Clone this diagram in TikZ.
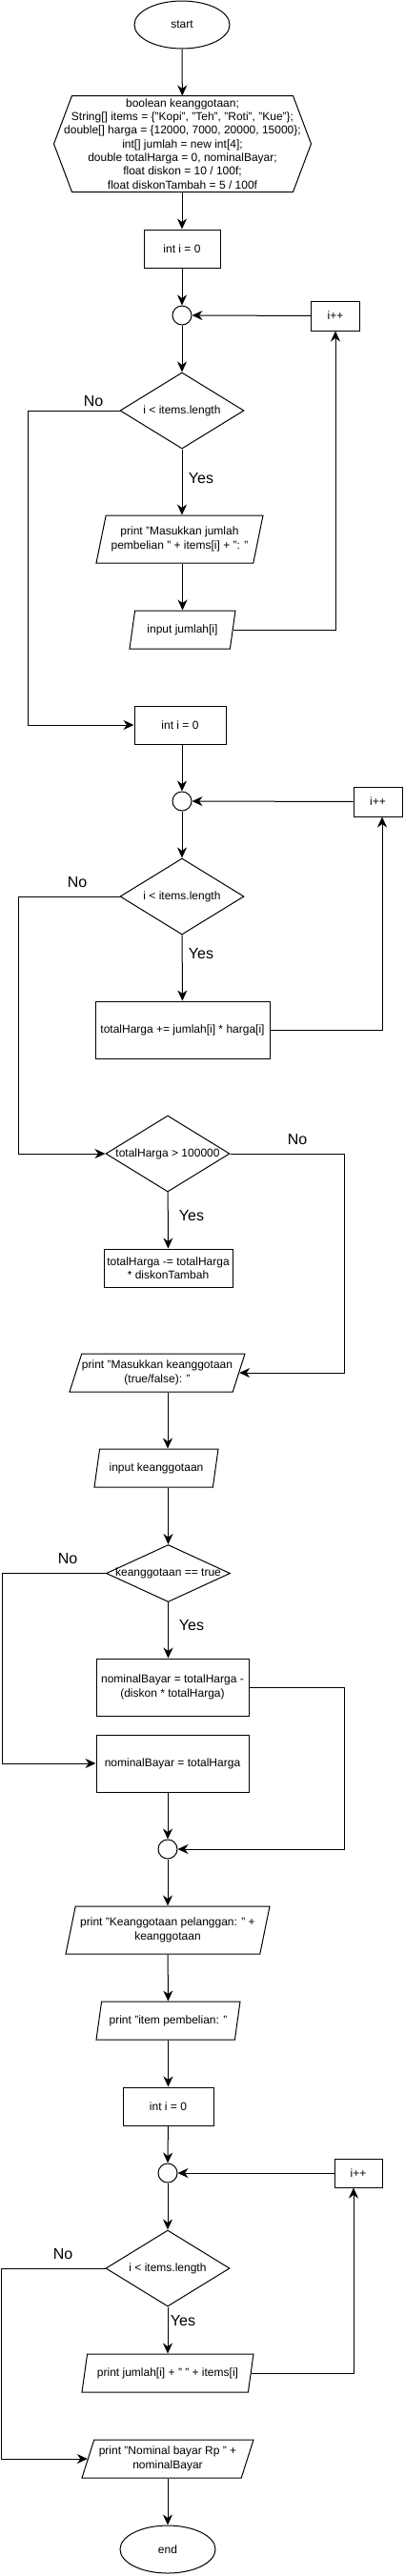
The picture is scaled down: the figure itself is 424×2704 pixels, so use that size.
\documentclass[tikz,border=0pt]{standalone}
\usepackage{fontspec}
\setmainfont{Liberation Sans}
\usetikzlibrary{shapes.geometric,arrows.meta}
\newcommand\zw[1]{\makebox[0pt]{#1}}

\begin{document}
\begin{tikzpicture}[x=1pt,y=-1pt,line width=1pt,font=\fontsize{12}{14.3}\selectfont,
    term/.style={ellipse,draw,minimum width=100,minimum height=50,inner sep=0},
    proc/.style={rectangle,draw,minimum height=40,inner sep=0,align=center},
    jn/.style={circle,draw,minimum size=20,inner sep=0},
    dec/.style={diamond,draw,minimum width=130,minimum height=80,inner sep=0},
    io/.style={trapezium,trapezium left angle=63.4,trapezium right angle=116.6,trapezium stretches body,draw,minimum height=40,inner sep=0,align=center},
    tall/.style={minimum height=50,trapezium left angle=68.2,trapezium right angle=111.8},
    lbl/.style={font=\fontsize{16}{16}\selectfont,inner sep=0,text height=11.5,text depth=0},
    arr/.style={-{Stealth[length=11pt,width=10pt,inset=3.5pt]}}]
    \useasboundingbox (0,0) rectangle (424,2704);
    \node[term] (start) at (191,26) {start};
    \node[minimum width=231,minimum height=100,inner sep=0,align=center] (init) at (191.5,151)
        {\zw{boolean keanggotaan;}\\\zw{String[] items = \{"Kopi", "Teh", "Roti", "Kue"\};}\\
         \zw{double[] harga = \{12000, 7000, 20000, 15000\};}\\\zw{int[] jumlah = new int[4];}\\
         \zw{double totalHarga = 0, nominalBayar;}\\\zw{float diskon = 10 / 100f;}\\\zw{float diskonTambah = 5 / 100f}};
    \draw (init.north west) -- (init.north east) -- ([xshift=19pt]init.east) -- (init.south east)
        -- (init.south west) -- ([xshift=-19pt]init.west) -- cycle;
    \node[proc,minimum width=80] (set1) at (191,261) {int i = 0};
    \node[jn] (j1) at (191,331) {};
    \node[proc,minimum width=51,minimum height=31] (inc1) at (352,331.5) {i++};
    \node[dec] (cek1) at (191,431) {\zw{i < items.length}};
    \node[io,tall,minimum width=175] (print1) at (188.5,566) {\zw{print "Masukkan jumlah}\\\zw{pembelian " + items[i] + ": "}};
    \node[io,minimum width=111] (in1) at (191.5,661) {\zw{input jumlah[i]}};
    \node[proc,minimum width=96] (set2) at (189,761) {int i = 0};
    \node[jn] (j2) at (191,841) {};
    \node[proc,minimum width=51,minimum height=31] (inc2) at (396.5,841.5) {i++};
    \node[dec] (cek2) at (191,941) {\zw{i < items.length}};
    \node[proc,minimum width=183,minimum height=60] (upd) at (191.5,1081) {totalHarga += jumlah[i] * harga[i]};
    \node[dec] (cek3) at (176,1211) {\zw{totalHarga > 100000}};
    \node[proc,minimum width=135] (disk) at (176.5,1331) {totalHarga -= totalHarga\\{}* diskonTambah};
    \node[io,minimum width=184] (print2) at (165,1441) {\zw{print "Masukkan keanggotaan}\\\zw{(true/false): "}};
    \node[io,minimum width=130] (in2) at (164,1541) {\zw{input keanggotaan}};
    \node[dec,minimum height=60] (cek4) at (176.5,1651.5) {\zw{keanggotaan == true}};
    \node[proc,minimum width=160,minimum height=60] (bayar1) at (181,1771) {nominalBayar = totalHarga -\\(diskon * totalHarga)};
    \node[proc,minimum width=160,minimum height=60] (bayar2) at (181,1851) {nominalBayar = totalHarga};
    \node[jn] (j3) at (176,1941) {};
    \node[io,tall,minimum width=214] (out1) at (176,2026) {\zw{print "Keanggotaan pelanggan: " +}\\\zw{keanggotaan}};
    \node[io,minimum width=151] (out2) at (176.5,2121) {\zw{print "item pembelian: "}};
    \node[proc,minimum width=95] (set3) at (176.5,2211) {int i = 0};
    \node[jn] (j4) at (176,2281) {};
    \node[proc,minimum width=50,minimum height=30] (inc3) at (376,2281) {i++};
    \node[dec] (cek5) at (176,2381) {\zw{i < items.length}};
    \node[io,minimum width=180] (out3) at (176,2491) {\zw{print jumlah[i] + " " + items[i]}};
    \node[io,minimum width=180] (out4) at (176,2581) {\zw{print "Nominal bayar Rp " +}\\\zw{nominalBayar}};
    \node[term] (end) at (176,2676) {end};
    \node[lbl] (no1) at (98,421) {No};
    \node[lbl] (yes1) at (211,502) {Yes};
    \node[lbl] (no2) at (81,926) {No};
    \node[lbl] (yes2) at (211,1001) {Yes};
    \node[lbl] (no3) at (312,1196) {No};
    \node[lbl] (yes3) at (201,1276) {Yes};
    \node[lbl] (no4) at (71,1636) {No};
    \node[lbl] (yes4) at (201,1706) {Yes};
    \node[lbl] (no5) at (66,2366) {No};
    \node[lbl] (yes5) at (192,2436) {Yes};
    \draw[arr] (start) -- (init);
    \draw[arr] (init.south -| set1) -- (set1);
    \draw[arr] (set1) -- (j1);
    \draw[arr] (inc1) -- (j1);
    \draw[arr] (j1) -- (cek1);
    \draw[arr] (cek1) -- (print1.north -| cek1);
    \draw[arr] (print1.south -| in1) -- (in1);
    \draw[arr] (in1.east) -| (inc1);
    \draw[arr] (cek1.west) -- +(-96,0) |- (set2);
    \draw[arr] (set2.south -| j2) -- (j2);
    \draw[arr] (inc2) -- (j2);
    \draw[arr] (j2) -- (cek2);
    \draw[arr] (cek2) -- (upd);
    \draw[arr] (upd.east) -| ([xshift=4.5pt]inc2.south);
    \draw[arr] (cek2.west) -- +(-106,0) |- (cek3);
    \draw[arr] (cek3) -- (disk);
    \draw[arr] (cek3.east) -- +(120,0) |- (print2.east);
    \draw[arr] (print2.south -| cek3) -- (in2.north -| cek3);
    \draw[arr] (in2.south -| cek4) -- (cek4);
    \draw[arr] (cek4) -- (bayar1.north -| cek4);
    \draw[arr] (bayar1.east) -- +(100,0) |- (j3);
    \draw[arr] (cek4.west) -- +(-109,0) |- (bayar2);
    \draw[arr] (bayar2.south -| j3) -- (j3);
    \draw[arr] (j3) -- (out1);
    \draw[arr] (out1) -- (out2);
    \draw[arr] (out2) -- (set3);
    \draw[arr] (set3) -- (j4);
    \draw[arr] (inc3) -- (j4);
    \draw[arr] (j4) -- (cek5);
    \draw[arr] (cek5) -- (out3);
    \draw[arr] (out3.east) -| ([xshift=-5pt]inc3.south);
    \draw[arr] (cek5.west) -- +(-109,0) |- (out4.west);
    \draw[arr] (out4) -- (end);
\end{tikzpicture}
\end{document}
